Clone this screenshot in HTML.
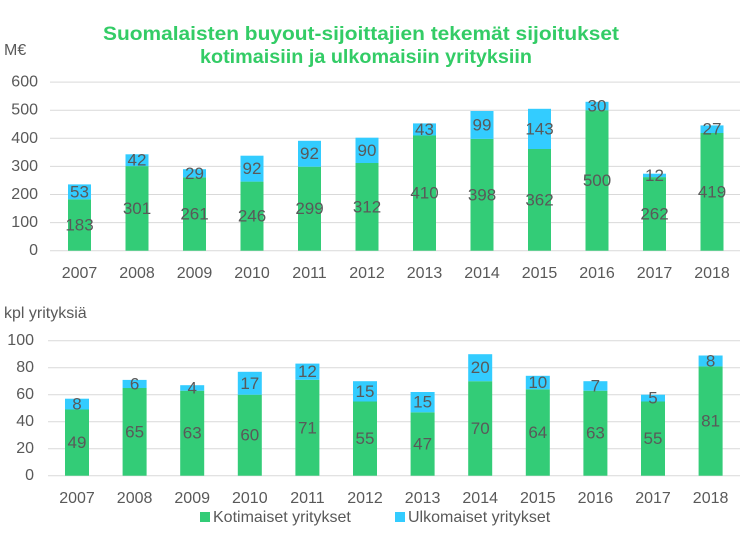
<!DOCTYPE html>
<html><head><meta charset="utf-8"><style>
html,body{margin:0;padding:0;background:#fff;}
svg{display:block;font-family:"Liberation Sans",sans-serif;}
.t{fill:#595959;font-size:17px;}
.a{fill:#595959;font-size:16px;}
.g{stroke:#d9d9d9;stroke-width:1;}
.G{fill:#33cc77;}
.B{fill:#33ccff;}
</style></head><body>
<svg width="750" height="537" viewBox="0 0 750 537">
<text x="361" y="40" text-anchor="middle" font-weight="bold" font-size="19" fill="#33cc66" textLength="516" lengthAdjust="spacingAndGlyphs">Suomalaisten buyout-sijoittajien tekemät sijoitukset</text>
<text x="366" y="63" text-anchor="middle" font-weight="bold" font-size="19" fill="#33cc66" textLength="332" lengthAdjust="spacingAndGlyphs">kotimaisiin ja ulkomaisiin yrityksiin</text>
<text x="4" y="55" class="a">M€</text>
<g class="g">
<line x1="50" x2="740" y1="250.7" y2="250.7"/><line x1="50" x2="740" y1="222.6" y2="222.6"/><line x1="50" x2="740" y1="194.5" y2="194.5"/><line x1="50" x2="740" y1="166.4" y2="166.4"/><line x1="50" x2="740" y1="138.3" y2="138.3"/><line x1="50" x2="740" y1="110.2" y2="110.2"/><line x1="50" x2="740" y1="82.1" y2="82.1"/>
</g>
<g class="a" text-anchor="end" dominant-baseline="central">
<text x="38" y="250.7">0</text><text x="38" y="222.6">100</text><text x="38" y="194.5">200</text><text x="38" y="166.4">300</text><text x="38" y="138.3">400</text><text x="38" y="110.2">500</text><text x="38" y="82.1">600</text>
</g>
<g>
<rect class="G" x="68" y="199.3" width="23" height="51.4"/><rect class="B" x="68" y="184.4" width="23" height="14.9"/>
<rect class="G" x="125.5" y="166.1" width="23" height="84.6"/><rect class="B" x="125.5" y="154.3" width="23" height="11.8"/>
<rect class="G" x="183" y="177.4" width="23" height="73.3"/><rect class="B" x="183" y="169.2" width="23" height="8.2"/>
<rect class="G" x="240.5" y="181.6" width="23" height="69.1"/><rect class="B" x="240.5" y="155.7" width="23" height="25.9"/>
<rect class="G" x="298" y="166.7" width="23" height="84"/><rect class="B" x="298" y="140.8" width="23" height="25.9"/>
<rect class="G" x="355.5" y="163" width="23" height="87.7"/><rect class="B" x="355.5" y="137.7" width="23" height="25.3"/>
<rect class="G" x="413" y="135.5" width="23" height="115.2"/><rect class="B" x="413" y="123.4" width="23" height="12.1"/>
<rect class="G" x="470.5" y="138.9" width="23" height="111.8"/><rect class="B" x="470.5" y="111" width="23" height="27.9"/>
<rect class="G" x="528" y="149" width="23" height="101.7"/><rect class="B" x="528" y="108.8" width="23" height="40.2"/>
<rect class="G" x="585.5" y="110.2" width="23" height="140.5"/><rect class="B" x="585.5" y="101.8" width="23" height="8.4"/>
<rect class="G" x="643" y="177.1" width="23" height="73.6"/><rect class="B" x="643" y="173.7" width="23" height="3.4"/>
<rect class="G" x="700.5" y="133" width="23" height="117.7"/><rect class="B" x="700.5" y="125.4" width="23" height="7.6"/>
</g>
<g class="t" text-anchor="middle" dominant-baseline="central">
<text x="79.5" y="225">183</text><text x="79.5" y="192">53</text>
<text x="137" y="208.4">301</text><text x="137" y="160.2">42</text>
<text x="194.5" y="214">261</text><text x="194.5" y="173.3">29</text>
<text x="252" y="216.2">246</text><text x="252" y="168.6">92</text>
<text x="309.5" y="208.7">299</text><text x="309.5" y="153.7">92</text>
<text x="367" y="206.8">312</text><text x="367" y="150.3">90</text>
<text x="424.5" y="193.1">410</text><text x="424.5" y="129.4">43</text>
<text x="482" y="194.8">398</text><text x="482" y="124.9">99</text>
<text x="539.5" y="199.8">362</text><text x="539.5" y="128.9">143</text>
<text x="597" y="180.4">500</text><text x="597" y="106">30</text>
<text x="654.5" y="213.9">262</text><text x="654.5" y="175.4">12</text>
<text x="712" y="191.8">419</text><text x="712" y="129.2">27</text>
</g>
<g class="a" text-anchor="middle">
<text x="79.5" y="278">2007</text><text x="137" y="278">2008</text><text x="194.5" y="278">2009</text><text x="252" y="278">2010</text><text x="309.5" y="278">2011</text><text x="367" y="278">2012</text><text x="424.5" y="278">2013</text><text x="482" y="278">2014</text><text x="539.5" y="278">2015</text><text x="597" y="278">2016</text><text x="654.5" y="278">2017</text><text x="712" y="278">2018</text>
</g>

<text x="4" y="318" class="a">kpl yrityksiä</text>
<g class="g">
<line x1="48" x2="740" y1="475.7" y2="475.7"/><line x1="48" x2="740" y1="448.7" y2="448.7"/><line x1="48" x2="740" y1="421.7" y2="421.7"/><line x1="48" x2="740" y1="394.7" y2="394.7"/><line x1="48" x2="740" y1="367.7" y2="367.7"/><line x1="48" x2="740" y1="340.7" y2="340.7"/>
</g>
<g class="a" text-anchor="end" dominant-baseline="central">
<text x="34" y="475.7">0</text><text x="34" y="448.7">20</text><text x="34" y="421.7">40</text><text x="34" y="394.7">60</text><text x="34" y="367.7">80</text><text x="34" y="340.7">100</text>
</g>
<g>
<rect class="G" x="65" y="409.5" width="24" height="66.2"/><rect class="B" x="65" y="398.7" width="24" height="10.8"/>
<rect class="G" x="122.6" y="388" width="24" height="87.7"/><rect class="B" x="122.6" y="379.9" width="24" height="8.1"/>
<rect class="G" x="180.2" y="390.7" width="24" height="85"/><rect class="B" x="180.2" y="385.2" width="24" height="5.5"/>
<rect class="G" x="237.8" y="394.7" width="24" height="81"/><rect class="B" x="237.8" y="371.8" width="24" height="22.9"/>
<rect class="G" x="295.4" y="379.8" width="24" height="95.9"/><rect class="B" x="295.4" y="363.6" width="24" height="16.2"/>
<rect class="G" x="353" y="401.5" width="24" height="74.2"/><rect class="B" x="353" y="381.2" width="24" height="20.3"/>
<rect class="G" x="410.6" y="412.3" width="24" height="63.4"/><rect class="B" x="410.6" y="392" width="24" height="20.3"/>
<rect class="G" x="468.2" y="381.2" width="24" height="94.5"/><rect class="B" x="468.2" y="354.2" width="24" height="27"/>
<rect class="G" x="525.8" y="389.3" width="24" height="86.4"/><rect class="B" x="525.8" y="375.8" width="24" height="13.5"/>
<rect class="G" x="583.4" y="390.7" width="24" height="85"/><rect class="B" x="583.4" y="381.2" width="24" height="9.5"/>
<rect class="G" x="641" y="401.5" width="24" height="74.2"/><rect class="B" x="641" y="394.7" width="24" height="6.8"/>
<rect class="G" x="698.6" y="366.4" width="24" height="109.3"/><rect class="B" x="698.6" y="355.5" width="24" height="10.9"/>
</g>
<g class="t" text-anchor="middle" dominant-baseline="central">
<text x="77" y="442.6">49</text><text x="77" y="404.1">8</text>
<text x="134.6" y="431.9">65</text><text x="134.6" y="384">6</text>
<text x="192.2" y="433.2">63</text><text x="192.2" y="388">4</text>
<text x="249.8" y="435.2">60</text><text x="249.8" y="383.3">17</text>
<text x="307.4" y="427.8">71</text><text x="307.4" y="371.7">12</text>
<text x="365" y="438.6">55</text><text x="365" y="391.4">15</text>
<text x="422.6" y="444">47</text><text x="422.6" y="402.2">15</text>
<text x="480.2" y="428.5">70</text><text x="480.2" y="367.7">20</text>
<text x="537.8" y="432.5">64</text><text x="537.8" y="382.6">10</text>
<text x="595.4" y="433.2">63</text><text x="595.4" y="386">7</text>
<text x="653" y="438.6">55</text><text x="653" y="398.1">5</text>
<text x="710.6" y="421">81</text><text x="710.6" y="361">8</text>
</g>
<g class="a" text-anchor="middle">
<text x="77" y="503">2007</text><text x="134.6" y="503">2008</text><text x="192.2" y="503">2009</text><text x="249.8" y="503">2010</text><text x="307.4" y="503">2011</text><text x="365" y="503">2012</text><text x="422.6" y="503">2013</text><text x="480.2" y="503">2014</text><text x="537.8" y="503">2015</text><text x="595.4" y="503">2016</text><text x="653" y="503">2017</text><text x="710.6" y="503">2018</text>
</g>
<rect class="G" x="200" y="512" width="10" height="10"/>
<text x="213" y="522" class="a" font-size="15">Kotimaiset yritykset</text>
<rect class="B" x="395" y="512" width="10" height="10"/>
<text x="408" y="522" class="a" font-size="15">Ulkomaiset yritykset</text>
</svg>
</body></html>
